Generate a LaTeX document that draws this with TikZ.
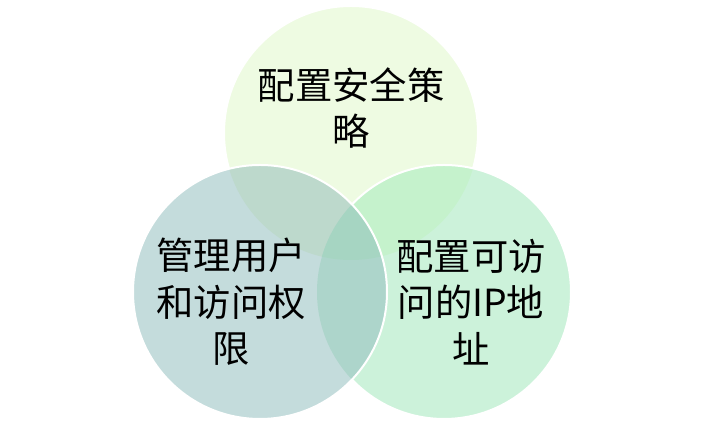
\documentclass[tikz,border=0pt]{standalone}
\usepackage{fontspec}
\setmainfont{Noto Sans CJK SC}
\definecolor{topfill}{HTML}{EEFBE2}
\definecolor{leftfill}{HTML}{C4DCDC}
\definecolor{rightfill}{HTML}{CCF2DA}
\definecolor{tlfill}{HTML}{BDD9CC}
\definecolor{trfill}{HTML}{C5F2CC}
\definecolor{lrfill}{HTML}{ADD5CB}
\definecolor{allfill}{HTML}{A6D5C2}
\begin{document}
\begin{tikzpicture}[
  x=0.75pt, y=0.75pt,
  rim/.style={draw=white, line width=1.5pt},
  setlabel/.style={align=center, font=\fontsize{28}{35}\selectfont, text=black, inner sep=0pt}
]
  \useasboundingbox (0,0) rectangle (704,427);

  % Circulos
  \def\topc{(351,294) circle[radius=127]}
  \def\leftc{(260,135) circle[radius=127]}
  \def\rightc{(444,135) circle[radius=127]}

  \fill[topfill] \topc;
  \draw[rim] \topc;

  \fill[rightfill] \rightc;
  \begin{scope}
    \clip \topc;
    \fill[trfill] \rightc;
  \end{scope}
  \draw[rim] \rightc;

  \fill[leftfill] \leftc;
  \begin{scope}
    \clip \leftc;
    \fill[tlfill] \topc;
    \fill[lrfill] \rightc;
    \clip \rightc;
    \fill[allfill] \topc;
  \end{scope}
  \draw[rim] \leftc;

  % Textos
  \node[setlabel] (policy) at (351,319) {配置安全策\\略};
  \node[setlabel] (users) at (231,125) {管理用户\\和访问权\\限};
  \node[setlabel] (ipaddr) at (471,125) {配置可访\\问的IP地\\址};

\end{tikzpicture}
\end{document}
